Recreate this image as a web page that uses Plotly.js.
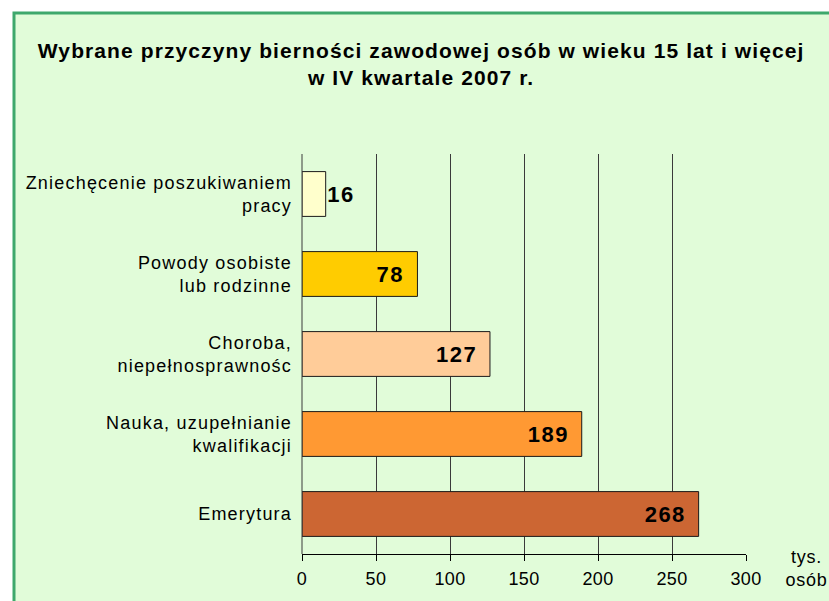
<!DOCTYPE html>
<html>
<head>
<meta charset="utf-8">
<script src="https://cdn.plot.ly/plotly-3.0.1.min.js"></script>
<style>
html,body{margin:0;padding:0;background:#fff;}
#chart{width:829px;height:601px;}
#chart .ytick text{letter-spacing:1.2px;}
#chart .xtick text{letter-spacing:0.4px;}
#chart .gtitle{letter-spacing:1.1px;}
#chart .bartext{letter-spacing:1.5px;}
#chart .annotation-text{letter-spacing:0.8px;}
</style>
</head>
<body>
<div id="chart"></div>
<script>
const categories = [
  "Zniechęcenie poszukiwaniem<br>pracy",
  "Powody osobiste<br>lub rodzinne",
  "Choroba,<br>niepełnosprawnośc",
  "Nauka, uzupełnianie<br>kwalifikacji",
  "Emerytura"
];
const values = [16, 78, 127, 189, 268];
const barColors = ["#ffffcc", "#ffcc00", "#ffcc99", "#ff9933", "#cc6633"];
const xTicks = [0, 50, 100, 150, 200, 250, 300];
const positions = [0, 1, 2, 3, 4];
const textPos = values.map(v => v < 40 ? "outside" : "inside");

const FONT = "Liberation Sans, Arial, sans-serif";

const trace = {
  type: "bar",
  orientation: "h",
  x: values,
  y: positions,
  width: 0.56,
  marker: { color: barColors, line: { color: "#1a1a1a", width: 1 } },
  text: values.map((v, i) => "<b>" + v + "</b>" + (textPos[i] === "inside" ? "\u00a0\u2009" : "")),
  textposition: textPos,
  insidetextanchor: "end",
  constraintext: "none",
  textfont: { family: FONT, size: 22, color: "#000" },
  cliponaxis: false,
  hoverinfo: "none"
};

const layout = {
  width: 829, height: 601,
  paper_bgcolor: "#ffffff",
  plot_bgcolor: "rgba(0,0,0,0)",
  margin: { l: 302, r: 83, t: 154, b: 47, pad: 0 },
  showlegend: false,
  font: { family: FONT, size: 18, color: "#000" },
  title: {
    text: "<b>Wybrane przyczyny bierności zawodowej osób w wieku 15 lat i więcej<br>w IV kwartale 2007 r.</b>",
    font: { family: FONT, size: 21, color: "#000" },
    xref: "container", yref: "container",
    x: 0.508, xanchor: "center",
    y: 1 - 58 / 601, yanchor: "middle"
  },
  xaxis: {
    range: [0, 300],
    tickvals: xTicks,
    ticktext: xTicks.map(String),
    showgrid: true, gridcolor: "#3a3a3a", gridwidth: 1,
    zeroline: false,
    showline: true, linecolor: "#000", linewidth: 1,
    ticks: "outside", ticklen: 6, tickcolor: "#000",
    ticklabelstandoff: 2,
    tickfont: { size: 18, color: "#000" },
    fixedrange: true
  },
  yaxis: {
    range: [4.5, -0.5],
    tickvals: positions,
    ticktext: categories,
    showgrid: false, zeroline: false,
    showline: false,
    ticks: "", ticklabelstandoff: 9,
    tickfont: { size: 18, color: "#000" },
    fixedrange: true
  },
  shapes: [
    {
      type: "rect", xref: "paper", yref: "paper", layer: "below",
      x0: (14 - 302) / 444, x1: 1.4, y0: -0.3, y1: (554 - 13) / 400,
      fillcolor: "#e1fcd9", line: { color: "#3ea86c", width: 3 }
    },
    {
      type: "line", xref: "paper", yref: "paper",
      x0: 0, x1: 0, y0: 0, y1: 1,
      line: { color: "#3a3a3a", width: 1 }
    }
  ],
  annotations: [
    {
      text: "tys.<br>osób", xref: "paper", yref: "paper",
      x: (806 - 302) / 444, y: -(568 - 554) / 400,
      xanchor: "center", yanchor: "middle", showarrow: false, align: "center",
      font: { size: 18, color: "#000" }
    }
  ]
};

Plotly.newPlot("chart", [trace], layout, { displayModeBar: false, staticPlot: true });
</script>
</body>
</html>
